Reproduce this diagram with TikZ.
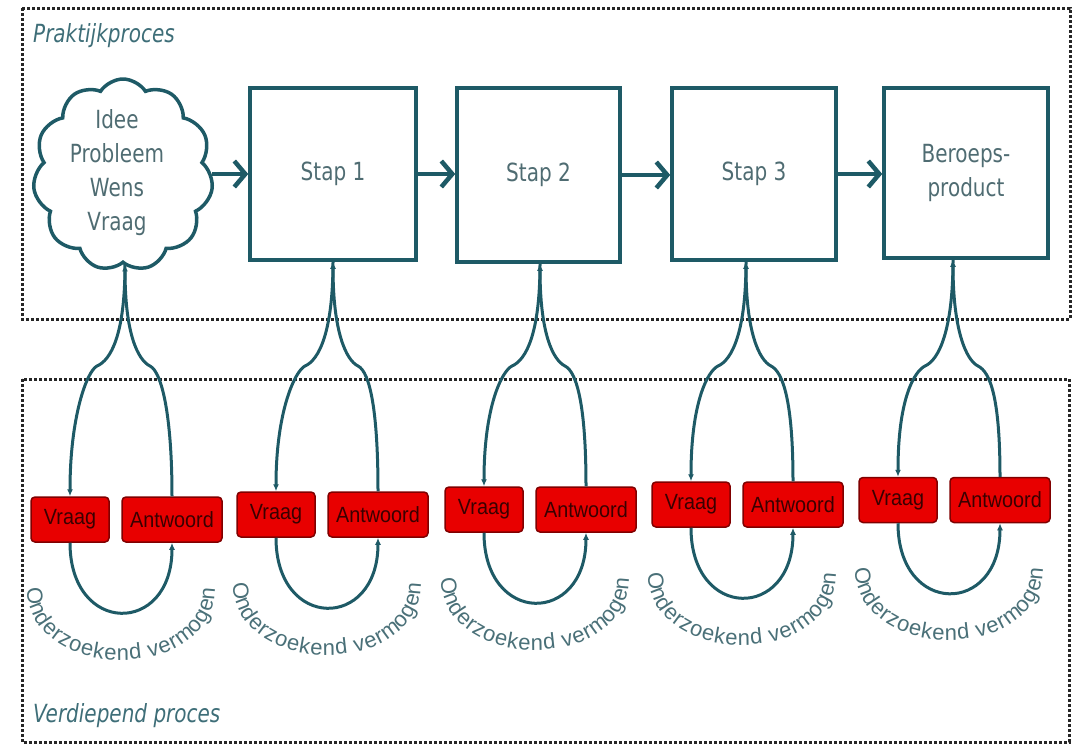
\documentclass[tikz,border=0pt]{standalone}
\usepackage{fontspec}
\usetikzlibrary{arrows.meta,shapes.symbols,decorations.text}
\newfontfamily\vfont[FakeStretch=0.8]{DejaVu Sans}
\newfontfamily\afont[FakeStretch=0.9]{Liberation Sans}
\newfontfamily\cfont{Liberation Sans}
\definecolor{tealc}{HTML}{1E5A66}
\definecolor{boxtext}{HTML}{4F6C72}
\definecolor{labc}{HTML}{3E6E78}
\definecolor{dotc}{HTML}{262626}
\definecolor{qred}{HTML}{E80000}
\definecolor{qborder}{HTML}{800000}
\definecolor{qtext}{HTML}{3A0000}
\definecolor{ctext}{HTML}{4A7078}
\begin{document}
\begin{tikzpicture}[x=1pt,y=-1pt,
  frame/.style={draw=dotc, line width=3pt, dash pattern=on 2.6pt off 2.4pt},
  lab/.style={anchor=base west, inner sep=0, text=labc, font=\vfont\itshape\fontsize{25}{30}\selectfont},
  stepbox/.style={draw=tealc, line width=3.5pt, minimum width=164pt, minimum height=172pt, inner sep=0,
    align=center, text=boxtext, font=\vfont\fontsize{25}{34}\selectfont},
  cloudbox/.style={cloud, cloud puffs=11, cloud puff arc=115, cloud ignores aspect, draw=tealc, line width=3.5pt,
    minimum width=180pt, minimum height=192pt, inner sep=0},
  flow/.style={draw=tealc, line width=4.5pt, -{Straight Barb[length=11pt,width=26pt]}},
  loopc/.style={draw=tealc, line width=3pt},
  tipc/.style={-{Latex[length=7pt,width=6pt]}},
  qbox/.style={draw=qborder, fill=qred, rounded corners=4pt, line width=1.5pt, minimum height=45pt, inner sep=0,
    text=qtext, font=\afont\fontsize{22}{22}\selectfont}
]
\useasboundingbox (0,0) rectangle (1074,745);
% frames
\draw[frame] (22,8) rectangle (1070,319);
\draw[frame] (22,379) rectangle (1069,742);
\node[lab] (lab1) at (33,42) {Praktijkproces};
\node[lab] (lab2) at (33,722) {Verdiepend proces};
% top row
\node[cloudbox] (b0) at (123,175) {};
\node[inner sep=0, align=center, text=boxtext, font=\vfont\fontsize{25}{34}\selectfont] (b0t) at (117,173) {Idee\\Probleem\\Wens\\Vraag};
\node[stepbox, minimum width=166pt] (b1) at (333,174) {Stap 1};
\node[stepbox, minimum width=163pt, minimum height=174pt] (b2) at (538.5,175) {Stap 2};
\node[stepbox] (b3) at (754,174) {Stap 3};
\node[stepbox, minimum height=170pt] (b4) at (966,173) {Beroeps-\\product};
\draw[flow] (b0.east |- b1.west) -- (b1.west);
\draw[flow] (b1.east) -- (b1.east -| b2.west);
\draw[flow] (b2.east) -- (b2.east -| b3.west);
\draw[flow] (b3.east) -- (b3.east -| b4.west);
% loops
\foreach \k/\p/\L/\R/\yc/\ty in {0/125/70/172/519.5/588, 1/333/276/378/514.5/583, 2/540/484/586/509.5/578, 3/746/691/793/504.5/573, 4/953/898/1000/500/568}{
  \pgfmathsetmacro\cx{(\L+\R)/2}
  \node[qbox, minimum width=78pt] (v\k) at (\L,\yc) {Vraag};
  \node[qbox, minimum width=100pt] (a\k) at (\R,\yc) {Antwoord};
  \coordinate (p\k) at (\p,0);
  \coordinate (s\k) at (p\k |- b\k.south);
  \draw[loopc, tipc] (s\k) .. controls +(0,70) and +(14,-6) .. (\p-28,366)
        .. controls +(-10,5) and +(0,-80) .. (v\k.north);
  \draw[loopc, tipc] (a\k.north) .. controls +(0,-80) and +(12,6) .. (\p+25,366)
        .. controls +(-12,-6) and +(0,70) .. (s\k);
  \draw[loopc, tipc] (v\k.south) .. controls +(0,93) and +(0,93) .. (a\k.south);
  \path[decorate, decoration={text along path,
      text={|\cfont\fontsize{22}{22}\selectfont\color{ctext}|Onderzoekend vermogen},
      text align=fit to path}]
     (\cx-94,\ty) .. controls +(0,96) and +(0,96) .. (\cx+94,\ty);
}
\end{tikzpicture}
\end{document}
